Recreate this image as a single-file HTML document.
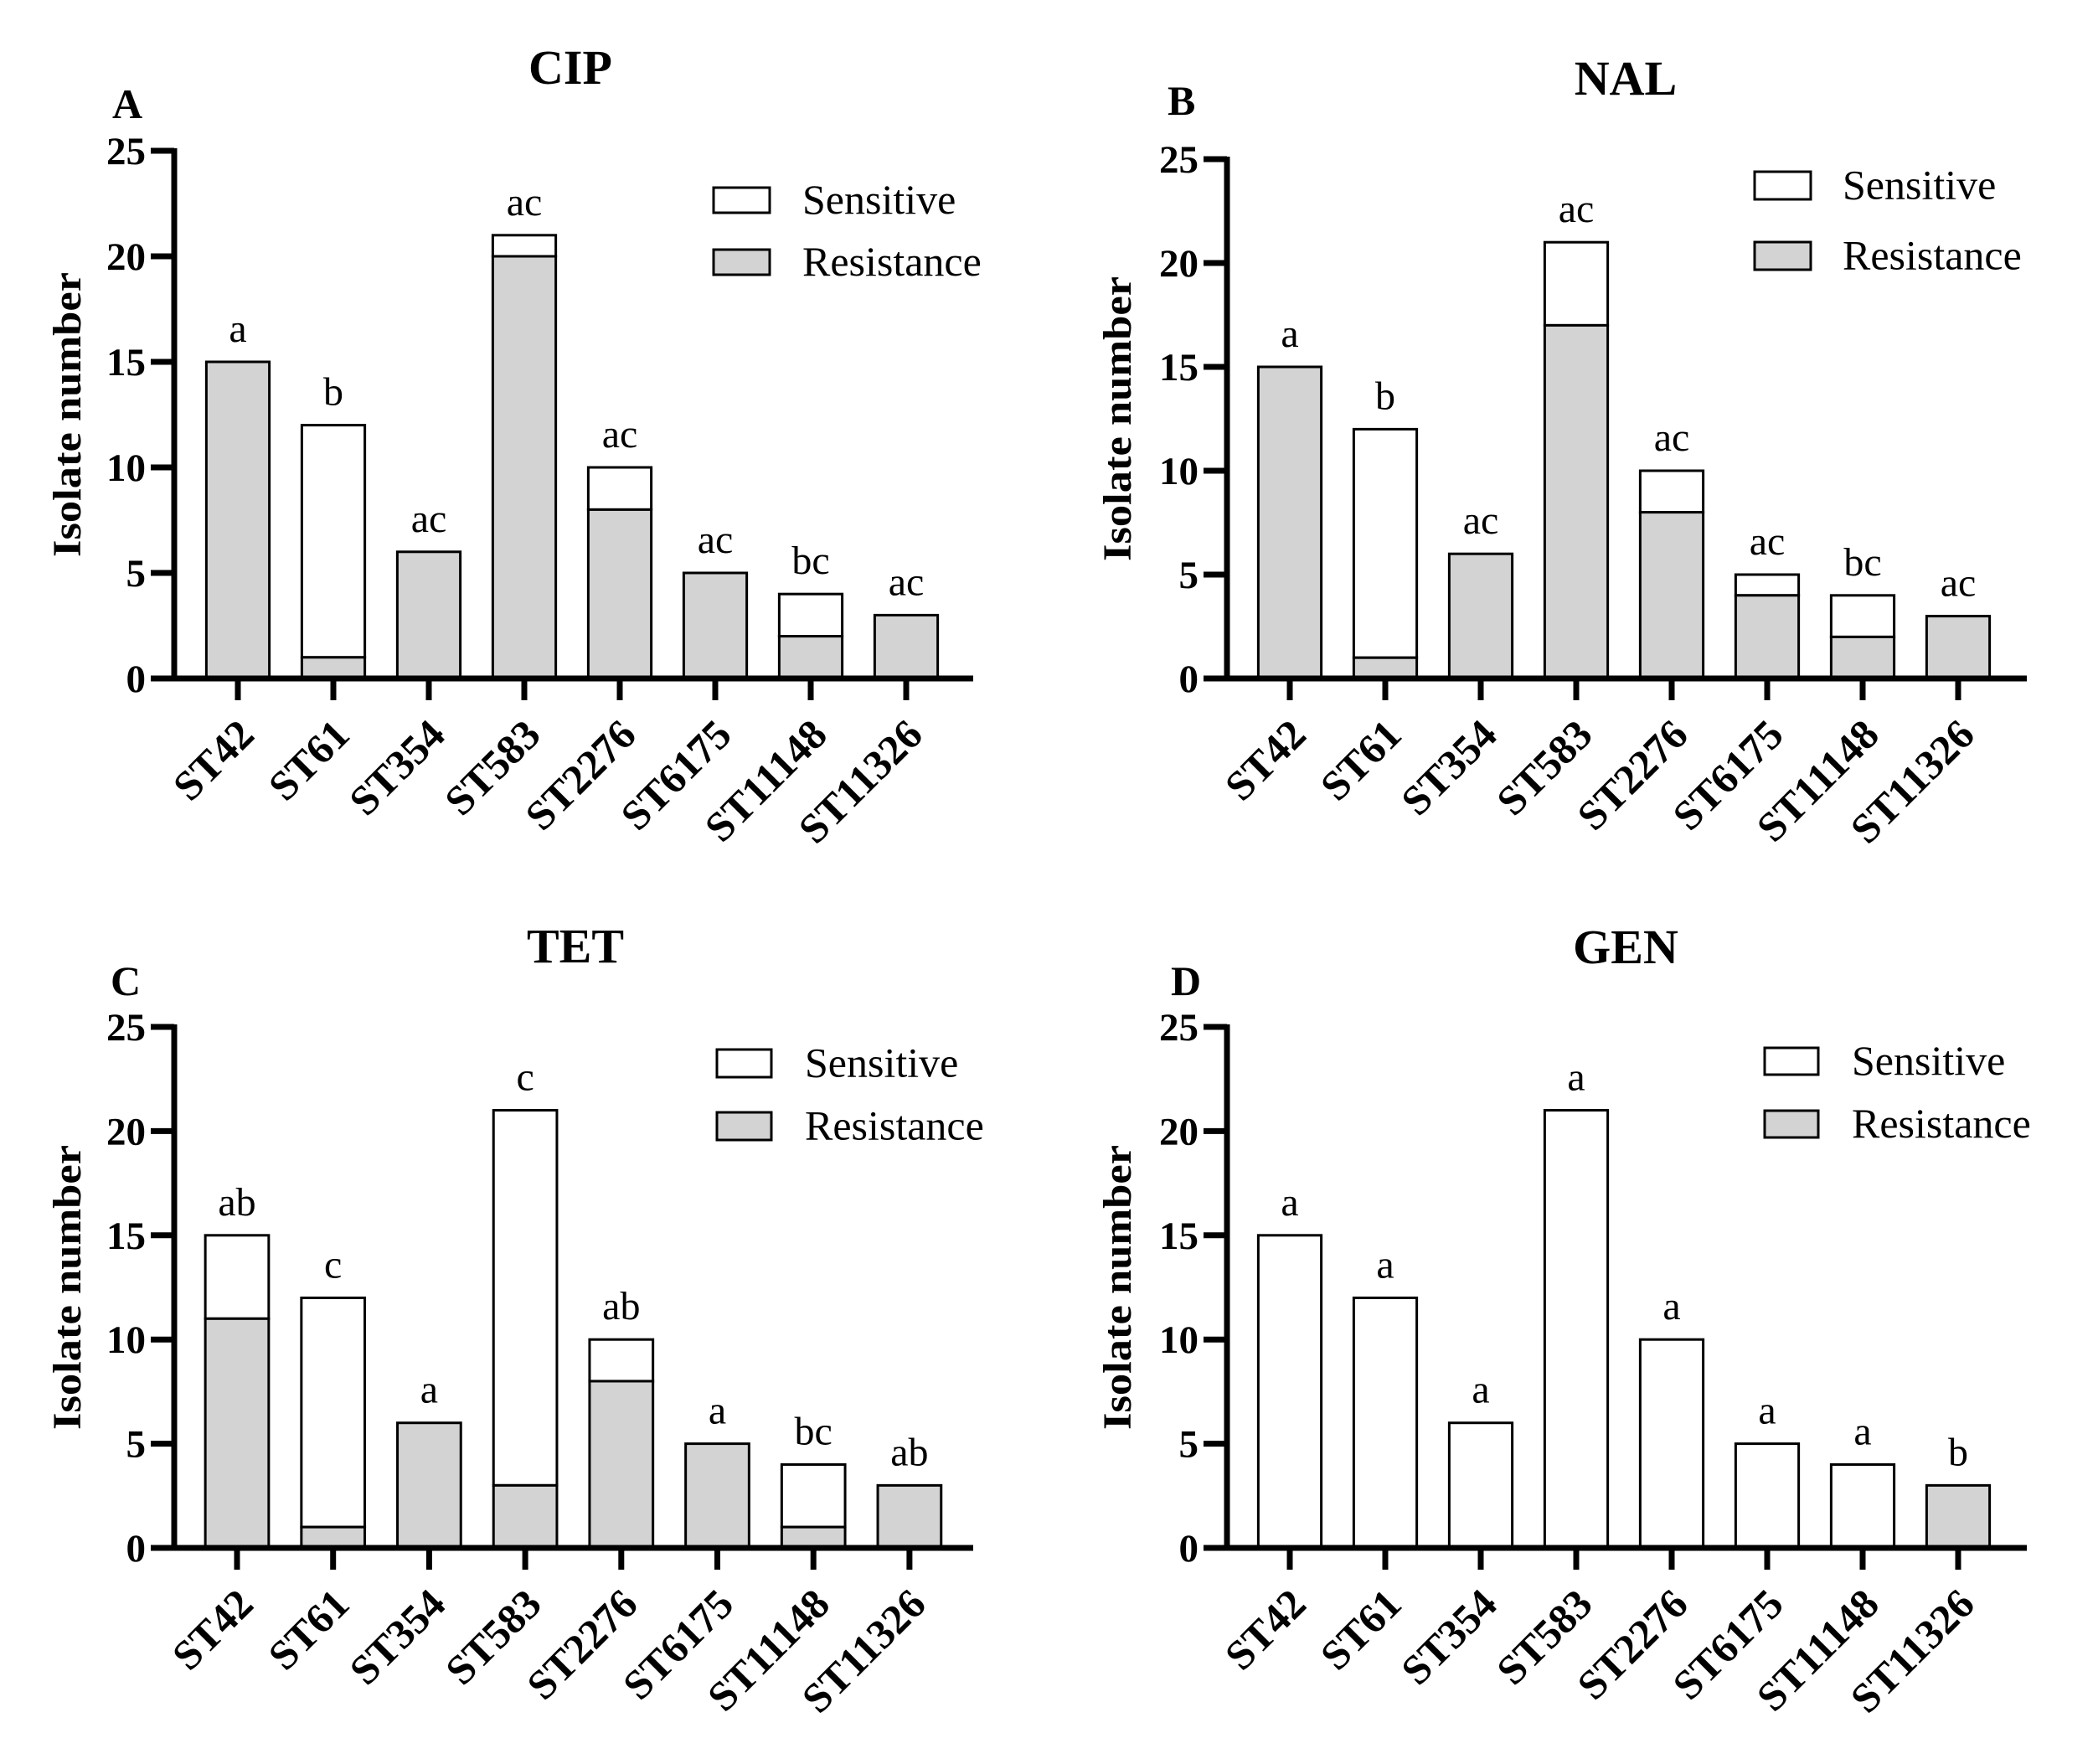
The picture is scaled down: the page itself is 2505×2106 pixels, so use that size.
<!DOCTYPE html>
<html><head><meta charset="utf-8"><style>
html,body{margin:0;padding:0;background:#fff;}
svg{display:block;}
text{font-family:"Liberation Serif","Times New Roman",serif;fill:#000;}
</style></head><body>
<svg id="fig" width="2505" height="2106" viewBox="0 0 2505 2106" xmlns="http://www.w3.org/2000/svg"></svg>
<script>
const categories = ["ST42","ST61","ST354","ST583","ST2276","ST6175","ST11148","ST11326"];
const totalCIP = [15,12,6,21,10,5,4,3];
const resistCIP = [15,1,6,20,8,5,2,3];
const lettersCIP = ["a","b","ac","ac","ac","ac","bc","ac"];
const totalNAL = [15,12,6,21,10,5,4,3];
const resistNAL = [15,1,6,17,8,4,2,3];
const lettersNAL = ["a","b","ac","ac","ac","ac","bc","ac"];
const totalTET = [15,12,6,21,10,5,4,3];
const resistTET = [11,1,6,3,8,5,1,3];
const lettersTET = ["ab","c","a","c","ab","a","bc","ab"];
const totalGEN = [15,12,6,21,10,5,4,3];
const resistGEN = [0,0,0,0,0,0,0,3];
const lettersGEN = ["a","a","a","a","a","a","a","b"];
const yTicks = [0,5,10,15,20,25];

const NS = "http://www.w3.org/2000/svg";
const svg = document.getElementById("fig");
function mk(tag, attrs, parent){
  const e = document.createElementNS(NS, tag);
  for (const k in attrs) e.setAttribute(k, attrs[k]);
  (parent||svg).appendChild(e);
  return e;
}

const panels = [
  {key:"cip", title:"CIP", letter:"A", total:totalCIP, resist:resistCIP, letters:lettersCIP,
   ax:208, ax2:1162, base:810, top:180, x0:284, step:114, tx:681, ty:100, lx:134, ly:141,
   atx:96, leg:{x:852,y1:224,y2:298,w:67,h:30,tx:958}},
  {key:"nal", title:"NAL", letter:"B", total:totalNAL, resist:resistNAL, letters:lettersNAL,
   ax:1465, ax2:2420, base:810, top:190, x0:1540, step:114, tx:1941, ty:113, lx:1394, ly:137,
   atx:1350, leg:{x:2095,y1:205,y2:289,w:67,h:33,tx:2200}},
  {key:"tet", title:"TET", letter:"C", total:totalTET, resist:resistTET, letters:lettersTET,
   ax:208, ax2:1162, base:1848, top:1226, x0:283, step:114.7, tx:687, ty:1149, lx:132, ly:1188,
   atx:96, leg:{x:856,y1:1253,y2:1328,w:65,h:33,tx:961}},
  {key:"gen", title:"GEN", letter:"D", total:totalGEN, resist:resistGEN, letters:lettersGEN,
   ax:1465, ax2:2420, base:1848, top:1226, x0:1540, step:114, tx:1941, ty:1150, lx:1398, ly:1188,
   atx:1350, leg:{x:2107,y1:1251,y2:1326,w:64,h:32,tx:2211}}
];

panels.forEach(p => {
  const g = mk("g", {});
  
  
  const y = v => p.base - (v/25)*(p.base - p.top);
  const xc = i => p.x0 + i*p.step;
  const bw = p.step*0.66;

  const t = mk("text", {x:p.tx, y:p.ty, "text-anchor":"middle", "font-size":58, "font-weight":"bold"}, g);
  t.textContent = p.title;
  
  
  const pl = mk("text", {x:p.lx, y:p.ly, "font-size":50, "font-weight":"bold"}, g);
  pl.textContent = p.letter;
  
  

  categories.forEach((c,i) => {
    const tot = p.total[i], res = p.resist[i];
    const bx = xc(i) - bw/2;
    if (tot > res) {
      const r = mk("rect", {x:bx, y:y(tot), width:bw, height:y(res)-y(tot), fill:"#fff", stroke:"#000", "stroke-width":3}, g);
      
      
    }
    if (res > 0) {
      const r = mk("rect", {x:bx, y:y(res), width:bw, height:p.base-y(res), fill:"#d3d3d3", stroke:"#000", "stroke-width":3}, g);
      
      
    }
    const lt = mk("text", {x:xc(i), y:y(tot)-24, "text-anchor":"middle", "font-size":48}, g);
    lt.textContent = p.letters[i];
    
    
    const tk = mk("line", {x1:xc(i), x2:xc(i), y1:p.base, y2:p.base+26, stroke:"#000", "stroke-width":7}, g);
    
    
    const cl = mk("text", {"text-anchor":"end", "font-size":50, "font-weight":"bold",
      transform:`translate(${xc(i)+22},${p.base+70}) rotate(-45)`}, g);
    cl.textContent = c;
    
    
  });

  const ya = mk("line", {x1:p.ax, x2:p.ax, y1:p.top-3, y2:p.base+3, stroke:"#000", "stroke-width":7}, g);
  
  
  const xa = mk("line", {x1:p.ax-3, x2:p.ax2, y1:p.base, y2:p.base, stroke:"#000", "stroke-width":7}, g);
  
  
  yTicks.forEach(v => {
    const l = mk("line", {x1:p.ax-28, x2:p.ax, y1:y(v), y2:y(v), stroke:"#000", "stroke-width":7}, g);
    
    
    const tl = mk("text", {x:p.ax-34, y:y(v)+16, "text-anchor":"end", "font-size":47, "font-weight":"bold"}, g);
    tl.textContent = v;
    
    
  });
  const at = mk("text", {"text-anchor":"middle", "font-size":48, "font-weight":"bold", textLength:340, lengthAdjust:"spacingAndGlyphs",
    transform:`translate(${p.atx},${(p.base+p.top)/2}) rotate(-90)`}, g);
  at.textContent = "Isolate number";
  
  

  const L = p.leg;
  const b1 = mk("rect", {x:L.x, y:L.y1, width:L.w, height:L.h, fill:"#fff", stroke:"#000", "stroke-width":3}, g);
  
  
  const t1 = mk("text", {x:L.tx, y:L.y1+L.h/2+16, "font-size":50}, g);
  t1.textContent = "Sensitive";
  
  
  const b2 = mk("rect", {x:L.x, y:L.y2, width:L.w, height:L.h, fill:"#d3d3d3", stroke:"#000", "stroke-width":3}, g);
  
  
  const t2 = mk("text", {x:L.tx, y:L.y2+L.h/2+16, "font-size":50}, g);
  t2.textContent = "Resistance";
  
  
});
</script>
</body></html>
